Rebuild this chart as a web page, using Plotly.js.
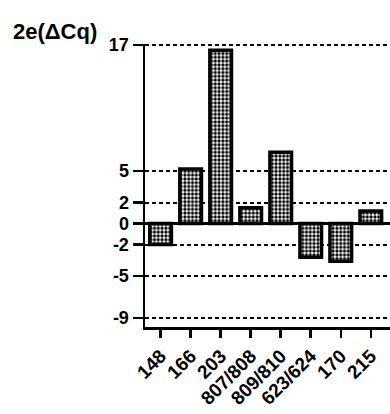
<!DOCTYPE html>
<html><head><meta charset="utf-8">
<script src="https://cdn.plot.ly/plotly-3.0.1.min.js"></script>
<style>html,body{margin:0;padding:0;background:#fff}#chart{width:390px;height:414px}</style>
</head><body><div id="chart"></div>
<script>
const categories = ["148","166","203","807/808","809/810","623/624","170","215"];
const values = [-2.0, 5.2, 16.5, 1.5, 6.8, -3.2, -3.6, 1.2];
const yTickVals = [17, 5, 2, 0, -2, -5, -9];
const yTickText = ["17","5","2","0","-2","-5","-9"];
const yTitle = "2e(\u0394Cq)";

const trace = {
  type: "bar",
  x: categories,
  y: values,
  width: 0.72,
  marker: {
    color: "#ffffff",
    line: {color: "#000", width: 3.5},
    pattern: {shape: ".", fgcolor: "#000", bgcolor: "#fff", size: 3.8, solidity: 0.55}
  },
  hoverinfo: "skip"
};

const layout = {
  width: 390, height: 414,
  margin: {l: 145, r: 0, t: 44, b: 87},
  paper_bgcolor: "#fff", plot_bgcolor: "#fff",
  showlegend: false,
  font: {family: "Liberation Sans, Arial, sans-serif", color: "#000"},
  xaxis: {
    type: "category",
    range: [-0.52, 7.64],
    showgrid: false,
    showline: true, linecolor: "#000", linewidth: 2.5,
    ticks: "outside", ticklen: 8, tickwidth: 2.5, tickcolor: "#000",
    tickangle: -45,
    tickfont: {size: 19, family: "Liberation Sans, Arial, sans-serif", weight: "bold", color: "#000"},
    zeroline: false, fixedrange: true
  },
  yaxis: {
    range: [-9.85, 17.1],
    tickmode: "array", tickvals: yTickVals, ticktext: yTickText,
    showgrid: true, gridcolor: "#000", gridwidth: 2, griddash: "4px,3px",
    zeroline: true, zerolinecolor: "#000", zerolinewidth: 2.5,
    showline: true, linecolor: "#000", linewidth: 2.5,
    ticks: "outside", ticklen: 10, tickwidth: 2.5, tickcolor: "#000",
    tickfont: {size: 18, family: "Liberation Sans, Arial, sans-serif", weight: "bold", color: "#000"},
    fixedrange: true
  },
  annotations: [{
    text: yTitle, xref: "paper", yref: "paper", x: -145/245, y: 1, xanchor: "left", yanchor: "bottom",
    yshift: -2, xshift: 11, showarrow: false,
    font: {size: 22, family: "Liberation Sans, Arial, sans-serif", weight: "bold", color: "#000"}
  }]
};

Plotly.newPlot("chart", [trace], layout, {displayModeBar: false, staticPlot: true});
</script></body></html>
